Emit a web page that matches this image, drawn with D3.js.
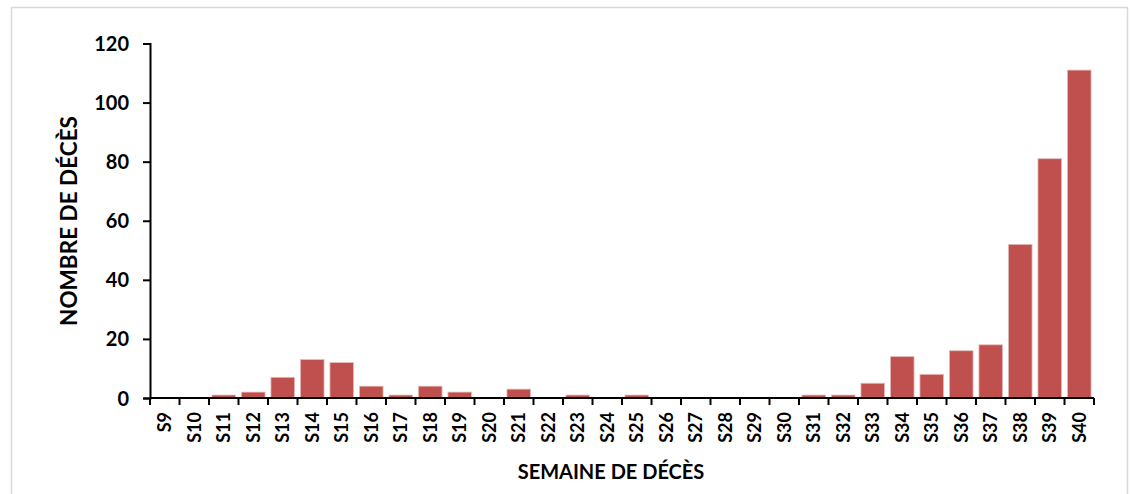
<!DOCTYPE html>
<html><head><meta charset="utf-8">
<script src="https://cdn.jsdelivr.net/npm/d3@7"></script>
<style>body{margin:0;background:#fff}svg{display:block}text{font-family:Lato,"Open Sans",sans-serif;font-weight:bold;fill:#000}</style>
</head><body>
<svg id="c" width="1132" height="494"></svg>
<script>
const weeks = ["S9","S10","S11","S12","S13","S14","S15","S16","S17","S18","S19","S20","S21","S22","S23","S24","S25","S26","S27","S28","S29","S30","S31","S32","S33","S34","S35","S36","S37","S38","S39","S40"];
const deaths = [0,0,1,2,7,13,12,4,1,4,2,0,3,0,1,0,1,0,0,0,0,0,1,1,5,14,8,16,18,52,81,111];
const yTicks = [0,20,40,60,80,100,120];
const yTitle = "NOMBRE DE DÉCÈS";
const xTitle = "SEMAINE DE DÉCÈS";

const svg = d3.select("#c");
svg.append("rect").attr("x",11.5).attr("y",7.5).attr("width",1116).attr("height",500)
  .attr("fill","#fff").attr("stroke","#d9d9d9").attr("stroke-width",1.5);

const L=150, R=1094, T=43.5, B=398;
const x = d3.scaleBand().domain(weeks).range([L,R]).paddingInner(0.2).paddingOuter(0.1);
const y = d3.scaleLinear().domain([0,120]).range([B,T]);

svg.append("g").selectAll("rect").data(deaths).join("rect")
  .attr("x",(d,i)=>x(weeks[i]))
  .attr("y",d=>y(d))
  .attr("width",x.bandwidth())
  .attr("height",d=>B-y(d))
  .attr("fill","#c0504d")
  .attr("stroke","#e6b9b8").attr("stroke-width",0.8);

// y axis
const ya = svg.append("g").attr("transform",`translate(${L},0)`)
  .call(d3.axisLeft(y).tickValues(yTicks).tickSize(7).tickPadding(14));
ya.select(".domain").attr("stroke","#000").attr("stroke-width",2);
ya.selectAll(".tick line").attr("stroke","#000").attr("stroke-width",2);
ya.selectAll(".tick text").style("font-size","20px").attr("dy","0.35em");

// x axis: line + ticks at band boundaries
const step = x.step();
const bounds = d3.range(weeks.length+1).map(i=>L+i*step);
svg.append("line").attr("x1",L).attr("x2",R).attr("y1",B).attr("y2",B)
  .attr("stroke","#000").attr("stroke-width",2);
svg.append("g").selectAll("line").data(bounds).join("line")
  .attr("x1",d=>d).attr("x2",d=>d).attr("y1",B).attr("y2",B+7)
  .attr("stroke","#000").attr("stroke-width",2);
svg.append("g").selectAll("text").data(weeks).join("text")
  .attr("transform",d=>`translate(${x(d)+x.bandwidth()/2+6.5},${B+14}) rotate(-90)`)
  .attr("text-anchor","end").style("font-size","18px").text(d=>d);

svg.append("text").attr("transform",`translate(77,${(115+327)/2}) rotate(-90)`)
  .attr("text-anchor","middle").style("font-size","22.5px").text(yTitle);
svg.append("text").attr("x",611).attr("y",479)
  .attr("text-anchor","middle").style("font-size","20px").text(xTitle);
</script>
</body></html>
